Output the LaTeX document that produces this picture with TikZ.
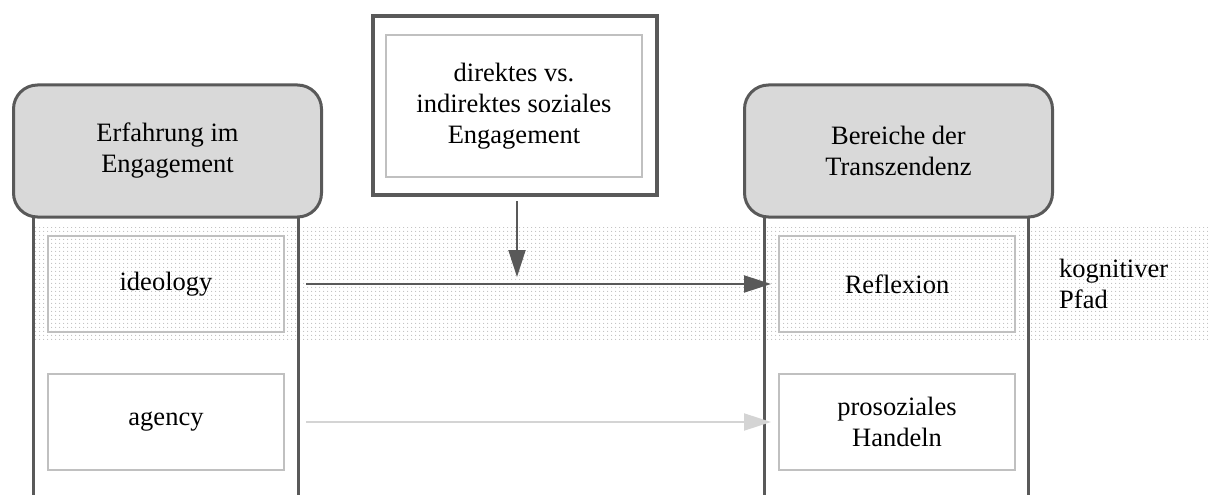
\documentclass[tikz,border=0pt]{standalone}
\usepackage{fontspec}
\setmainfont{Liberation Serif}
\usetikzlibrary{arrows.meta,patterns.meta}
\definecolor{framegray}{RGB}{89,89,89}
\definecolor{headfill}{RGB}{217,217,217}
\definecolor{innergray}{RGB}{192,192,192}
\definecolor{faintgray}{RGB}{212,212,212}
\definecolor{dotgray}{RGB}{190,190,190}

\begin{document}
\begin{tikzpicture}[x=1pt,y=-1pt,
  every node/.style={font=\fontsize{26.5}{31}\selectfont,align=center,inner sep=0pt},
  header/.style={draw=framegray,line width=3pt,fill=headfill,rounded corners=24pt,
    minimum width=308pt,minimum height=132pt},
  item/.style={draw=innergray,line width=2pt,minimum width=236pt,minimum height=96pt},
  lane/.style={draw=framegray,line width=3pt},
  pathline/.style={-{Triangle[length=27pt,width=17pt]},line width=2pt,draw=framegray}]
  \useasboundingbox (0,0) rectangle (1208,495);

  % dotted band of the cognitive path
  \fill[pattern={Dots[distance=4pt,radius=0.75pt]},pattern color=dotgray]
    (35,227) rectangle (1208,340);

  % column lanes
  \draw[lane] (33,210) -- (33,495);
  \draw[lane] (298,210) -- (298,495);
  \draw[lane] (764,210) -- (764,495);
  \draw[lane] (1028,210) -- (1028,495);

  \node[header] (erfahrung) at (167.5,151) {Erfahrung im\\Engagement};
  \node[header] (bereiche) at (898.5,151) {Bereiche der\\Transzendenz};

  \node[item] (ideology) at (166,284) {ideology};
  \node[item] (agency) at (166,422) {agency};
  \node[item] (reflexion) at (897,284) {Reflexion};
  \node[item] (handeln) at (897,422) {prosoziales\\Handeln};

  % moderator
  \node[draw=framegray,line width=4pt,minimum width=284pt,minimum height=179pt]
    (moderator) at (515,105.5) {};
  \node[item,minimum width=256pt,minimum height=142pt] (modtext) at (514,106)
    {direktes vs.\\indirektes soziales\\Engagement};

  \node[anchor=west,align=left] (kognitiv) at (1059,284) {kognitiver\\Pfad};

  \coordinate (cue) at (517,277);
  \draw[pathline,shorten <=4pt] (moderator.south -| cue) -- (cue);
  \draw[pathline,shorten <=21pt,shorten >=7pt] (ideology.east) -- (reflexion.west);
  \draw[pathline,draw=faintgray,shorten <=21pt,shorten >=7pt] (agency.east) -- (handeln.west);
\end{tikzpicture}
\end{document}
